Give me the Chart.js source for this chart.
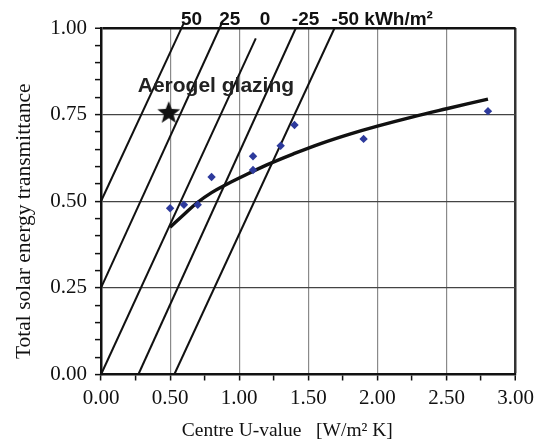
<!DOCTYPE html>
<html>
<head>
<meta charset="utf-8">
<script src="https://cdn.jsdelivr.net/npm/chart.js@4/dist/chart.umd.min.js"></script>
<style>
html,body{margin:0;padding:0;background:#fff;}
#wrap{width:539px;height:441px;position:relative;}
</style>
</head>
<body>
<div id="wrap"><canvas id="c" width="539" height="441"></canvas></div>
<script>
// ---- data ----
const curveU = [0.50, 0.60, 0.70, 0.80, 0.90, 1.00, 1.20, 1.40, 1.60, 1.80, 2.00, 2.25, 2.50, 2.80];
const curveG = [0.425, 0.462, 0.497, 0.525, 0.547, 0.567, 0.605, 0.638, 0.668, 0.694, 0.717, 0.743, 0.767, 0.795];

const measuredU = [0.50, 0.60, 0.70, 0.80, 1.10, 1.10, 1.30, 1.40, 1.90, 2.80];
const measuredG = [0.48, 0.49, 0.49, 0.57, 0.63, 0.59, 0.66, 0.72, 0.68, 0.76];

const aerogelU = [0.49];
const aerogelG = [0.758];
const aerogelLabel = 'Aerogel glazing';

const balanceLabels = ['50', '25', '0', '-25', '-50 kWh/m²'];
const balanceStartU = [0, 0, 0, 0.27, 0.53];
const balanceStartG = [0.5, 0.25, 0, 0, 0];
const balanceEndU = [0.60, 0.87, 1.12, 1.41, 1.69];
const balanceEndG = [1.015, 1.01, 0.97, 1.0, 1.0];

const xTickLabels = ['0.00', '0.50', '1.00', '1.50', '2.00', '2.50', '3.00'];
const yTickLabels = ['0.00', '0.25', '0.50', '0.75', '1.00'];
const xTitle = 'Centre U-value   [W/m² K]';
const yTitle = 'Total solar energy transmittance';

// ---- star point image ----
function makeStar(R) {
  const s = Math.ceil(R * 2 + 2);
  const cv = document.createElement('canvas');
  cv.width = s; cv.height = s;
  const c = cv.getContext('2d');
  const cx = s / 2, cy = s / 2 + R * 0.1, r = R * 0.42;
  c.beginPath();
  for (let i = 0; i < 10; i++) {
    const rad = i % 2 === 0 ? R : r;
    const a = -Math.PI / 2 + i * Math.PI / 5;
    const px = cx + rad * Math.cos(a), py = cy + rad * Math.sin(a);
    if (i === 0) c.moveTo(px, py); else c.lineTo(px, py);
  }
  c.closePath();
  c.fillStyle = '#111';
  c.fill();
  return cv;
}
const starImg = makeStar(12);

const isMult = (v, step) => Math.abs(v / step - Math.round(v / step)) < 1e-6;

const datasets = [];
datasets.push({
  label: 'measured',
  data: measuredU.map((u, i) => ({x: u, y: measuredG[i]})),
  pointStyle: 'rectRot', pointRadius: 4.2, pointHoverRadius: 4.2,
  backgroundColor: '#2D3A9C', borderColor: '#2D3A9C', borderWidth: 0,
  showLine: false, order: 0
});
datasets.push({
  label: 'aerogel',
  data: aerogelU.map((u, i) => ({x: u, y: aerogelG[i]})),
  pointStyle: starImg, pointRadius: 12, showLine: false, order: 0
});
datasets.push({
  label: 'model',
  data: curveU.map((u, i) => ({x: u, y: curveG[i]})),
  showLine: true, borderColor: '#111', borderWidth: 3.4, pointRadius: 0,
  tension: 0.4, borderCapStyle: 'butt', order: 1
});
balanceLabels.forEach((lab, i) => {
  datasets.push({
    label: lab,
    data: [{x: balanceStartU[i], y: balanceStartG[i]}, {x: balanceEndU[i], y: balanceEndG[i]}],
    showLine: true, borderColor: '#111', borderWidth: 2, pointRadius: 0,
    clip: false, order: 2
  });
});

const textPlugin = {
  id: 'texts',
  afterDatasetsDraw(chart) {
    const ctx = chart.ctx, xs = chart.scales.x, ys = chart.scales.y, ca = chart.chartArea;
    const dx = [-3, -2, 4, -4, -3];
    ctx.save();
    // line labels
    ctx.font = 'bold 19px "Liberation Sans", Arial, sans-serif';
    ctx.textBaseline = 'alphabetic';
    ctx.textAlign = 'left';
    balanceLabels.forEach((lab, i) => {
      const px = xs.getPixelForValue(balanceEndU[i]) + dx[i];
      const py = ys.getPixelForValue(1.0) - 3;
      if (i === balanceLabels.length - 1) {
        const w = ctx.measureText(lab).width;
        ctx.fillStyle = '#fff';
        ctx.fillRect(px - 2, py - 17, w + 4, 19);
      }
      ctx.fillStyle = '#111';
      ctx.fillText(lab, px, py);
    });
    // aerogel label
    const sx = xs.getPixelForValue(aerogelU[0]), sy = ys.getPixelForValue(aerogelG[0]);
    ctx.font = 'bold 21px "Liberation Sans", Arial, sans-serif';
    ctx.fillStyle = '#222';
    ctx.fillText(aerogelLabel, sx - 31, sy - 20);
    // axis titles
    ctx.font = '19.5px "Liberation Serif", "Times New Roman", serif';
    ctx.fillStyle = '#111';
    ctx.textAlign = 'center';
    ctx.textBaseline = 'alphabetic';
    ctx.fillText(xTitle, (ca.left + ca.right) / 2 - 21, 436);
    ctx.font = '21.5px "Liberation Serif", "Times New Roman", serif';
    ctx.save();
    ctx.translate(30, (ca.top + ca.bottom) / 2 + 20);
    ctx.rotate(-Math.PI / 2);
    ctx.fillText(yTitle, 0, 0);
    ctx.restore();
    ctx.restore();
  }
};

new Chart(document.getElementById('c'), {
  type: 'scatter',
  data: {datasets},
  options: {
    responsive: false,
    animation: false,
    devicePixelRatio: 1,
    layout: {padding: {left: 0, right: 21, top: 28, bottom: 0}},
    plugins: {legend: {display: false}, tooltip: {enabled: false}},
    scales: {
      x: {
        type: 'linear', min: 0, max: 3,
        afterFit(s) { s.height = 66.5; },
        ticks: {
          stepSize: 0.25, autoSkip: false, maxRotation: 0, padding: 5,
          color: '#111',
          font: {family: '"Liberation Serif", "Times New Roman", serif', size: 21},
          callback(v) { return isMult(v, 0.5) ? xTickLabels[Math.round(v / 0.5)] : ''; }
        },
        grid: {
          drawTicks: true, tickLength: 6, tickColor: '#111', tickWidth: 1.5,
          color(c) {
            const v = c.tick ? c.tick.value : 0;
            if (!isMult(v, 0.5) || v <= 0) return 'rgba(0,0,0,0)';
            return v >= 3 ? '#333' : '#8a8a8a';
          },
          lineWidth(c) { const v = c.tick ? c.tick.value : 0; return v >= 3 ? 2.5 : 1.2; }
        },
        border: {color: '#111', width: 2.5}
      },
      y: {
        type: 'linear', min: 0, max: 1,
        afterFit(s) { s.width = 101; },
        ticks: {
          stepSize: 0.05, autoSkip: false, padding: 8,
          color: '#111',
          font: {family: '"Liberation Serif", "Times New Roman", serif', size: 21},
          callback(v) { return isMult(v, 0.25) ? yTickLabels[Math.round(v / 0.25)] : ''; }
        },
        grid: {
          drawTicks: true, tickLength: 6, tickColor: '#111', tickWidth: 1.5,
          color(c) {
            const v = c.tick ? c.tick.value : 0;
            if (!isMult(v, 0.25) || v <= 0) return 'rgba(0,0,0,0)';
            return v >= 1 ? '#111' : '#444';
          },
          lineWidth(c) { const v = c.tick ? c.tick.value : 0; return v >= 1 ? 2.5 : 1.2; }
        },
        border: {color: '#111', width: 2.5}
      }
    }
  },
  plugins: [textPlugin]
});
</script>
</body>
</html>
